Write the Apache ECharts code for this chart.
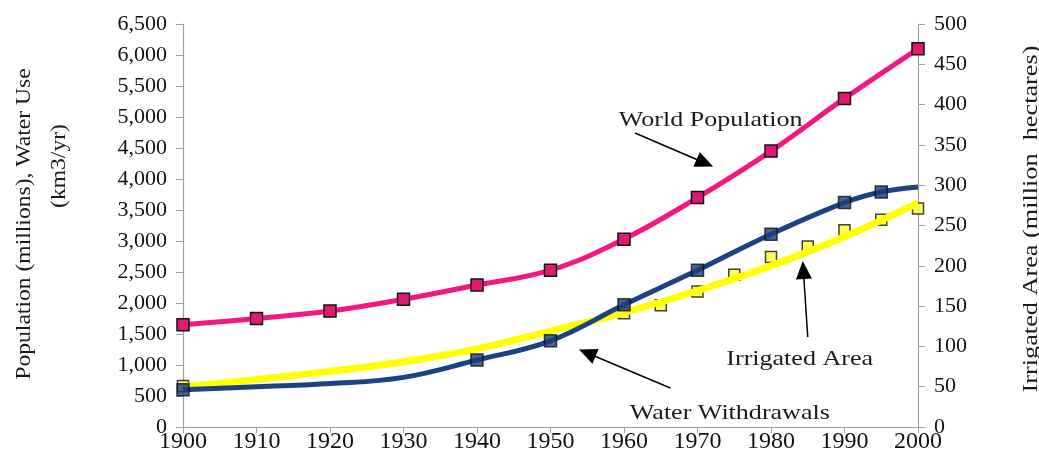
<!DOCTYPE html>
<html><head><meta charset="utf-8">
<script src="https://cdn.jsdelivr.net/npm/echarts@6.0.0/dist/echarts.min.js"></script>
<style>html,body{margin:0;padding:0;background:#fff}#c{width:1039px;height:476px}</style>
</head><body><div id="c"></div>
<script>
// ---- data ----
const years = [1900,1910,1920,1930,1940,1950,1960,1970,1980,1990,2000];
const population = [1650,1750,1870,2060,2290,2530,3030,3700,4450,5300,6100];
const withdrawalYears = [1900,1910,1920,1930,1940,1950,1960,1970,1980,1990,1995,2000];
const withdrawals = [600,650,700,800,1080,1390,1970,2530,3110,3620,3790,3870];
const withdrawalMarkedYears = [1900,1940,1950,1960,1970,1980,1990,1995];
const irrigatedTrendYears = [1900,1910,1920,1930,1940,1950,1960,1970,1980,1990,2000];
const irrigatedTrend = [50,59,69,81,97,119,142,169,200,236,278];
const irrigatedYears = [1900,1960,1965,1970,1975,1980,1985,1990,1995,2000];
const irrigated = [51,141,151,168,189,211,224,244,257,271];
const xTicks = [1900,2000,10];
const leftTicks = [0,6500,500];
const rightTicks = [0,500,50];
const annotationTexts = ['World Population','Irrigated Area','Water Withdrawals'];
const annotationAt = [[1971.8,4950],[1983.9,1090],[1974.4,220]];
const arrowFrom = [[1961.5,4742],[1985.0,1452],[1966.3,629]];
const arrowTo = [[1971.0,4258],[1984.4,2532],[1955.0,1194]];

const FONT = "'Liberation Serif','Times New Roman',serif";
const pair = (xs, ys) => xs.map((x,i)=>[x, ys[i]]);
const wdMarkers = withdrawalMarkedYears.map(y => [y, withdrawals[withdrawalYears.indexOf(y)]]);

const chart = echarts.init(document.getElementById('c'), null, {renderer:'canvas'});
const axisLabel = {fontFamily:FONT, fontSize:22, color:'#111'};
const axisLine = {show:true, lineStyle:{color:'#a0a0a0', width:1.2}};

chart.setOption({
  animation:false,
  backgroundColor:'#fff',
  grid:{left:183, right:121, top:24, bottom:49, containLabel:false},
  xAxis:{type:'value', min:xTicks[0], max:xTicks[1], interval:xTicks[2],
    axisLine:axisLine, axisTick:{show:true, length:6, lineStyle:{color:'#a0a0a0'}},
    splitLine:{show:false},
    axisLabel:Object.assign({}, axisLabel, {fontSize:24, margin:3, formatter:v=>String(v)})},
  yAxis:[
    {type:'value', min:leftTicks[0], max:leftTicks[1], interval:leftTicks[2], position:'left',
      axisLine:axisLine, axisTick:{show:true, length:7, lineStyle:{color:'#a0a0a0'}},
      splitLine:{show:false}, axisLabel:Object.assign({}, axisLabel, {margin:16})},
    {type:'value', min:rightTicks[0], max:rightTicks[1], interval:rightTicks[2], position:'right',
      axisLine:axisLine, axisTick:{show:true, length:7, lineStyle:{color:'#a0a0a0'}},
      splitLine:{show:false}, axisLabel:Object.assign({}, axisLabel, {margin:16})}
  ],
  series:[
    {name:'Irrigated markers', type:'scatter', yAxisIndex:1, z:1,
      data:pair(irrigatedYears, irrigated), symbol:'rect', symbolSize:11,
      itemStyle:{color:'#ffff33', borderColor:'#111', borderWidth:1.5}},
    {name:'Irrigated Area', type:'line', yAxisIndex:1, z:2, smooth:0.4, showSymbol:false,
      data:pair(irrigatedTrendYears, irrigatedTrend),
      lineStyle:{color:'#ffff00', width:7}},
    {name:'Water Withdrawals', type:'line', yAxisIndex:0, z:3, smooth:0.4, showSymbol:false,
      data:pair(withdrawalYears, withdrawals),
      lineStyle:{color:'#1a4285', width:5}},
    {name:'Withdrawal markers', type:'scatter', yAxisIndex:0, z:4,
      data:wdMarkers, symbol:'rect', symbolSize:12,
      itemStyle:{color:'#1d3c7c', borderColor:'#111', borderWidth:1.5}},
    {name:'World Population', type:'line', yAxisIndex:0, z:5, smooth:0.4,
      data:pair(years, population), symbol:'rect', symbolSize:12, showSymbol:true,
      lineStyle:{color:'#f5167f', width:5},
      itemStyle:{color:'#e01a70', borderColor:'#111', borderWidth:1.5},
      markLine:{silent:true, symbol:['none','triangle'], symbolSize:[16,18],
        label:{show:false}, lineStyle:{color:'#000', width:1.5, type:'solid'},
        data:arrowFrom.map((f,i)=>[{coord:f},{coord:arrowTo[i]}])}}
  ]
});

const textEls = annotationTexts.map((t,i)=>{
  const p = chart.convertToPixel({seriesIndex:4}, annotationAt[i]);
  return {type:'text', x:p[0], y:p[1], scaleX:1.24,
    style:{text:t, font:'21px '+FONT, fill:'#1a1a1a', align:'center', verticalAlign:'middle'}};
});
chart.setOption({graphic:[
  ...textEls,
  {type:'text', x:25, y:224, rotation:Math.PI/2, scaleX:1.18,
    style:{text:'Population (millions), Water Use', font:'20px '+FONT, fill:'#1a1a1a', align:'center', verticalAlign:'middle'}},
  {type:'text', x:60, y:166, rotation:Math.PI/2, scaleX:1.18,
    style:{text:'(km3/yr)', font:'20px '+FONT, fill:'#1a1a1a', align:'center', verticalAlign:'middle'}},
  {type:'text', x:1031, y:219, rotation:Math.PI/2, scaleX:1.25,
    style:{text:'Irrigated Area (million  hectares)', font:'21px '+FONT, fill:'#1a1a1a', align:'center', verticalAlign:'middle'}}
]});
</script>
</body></html>
